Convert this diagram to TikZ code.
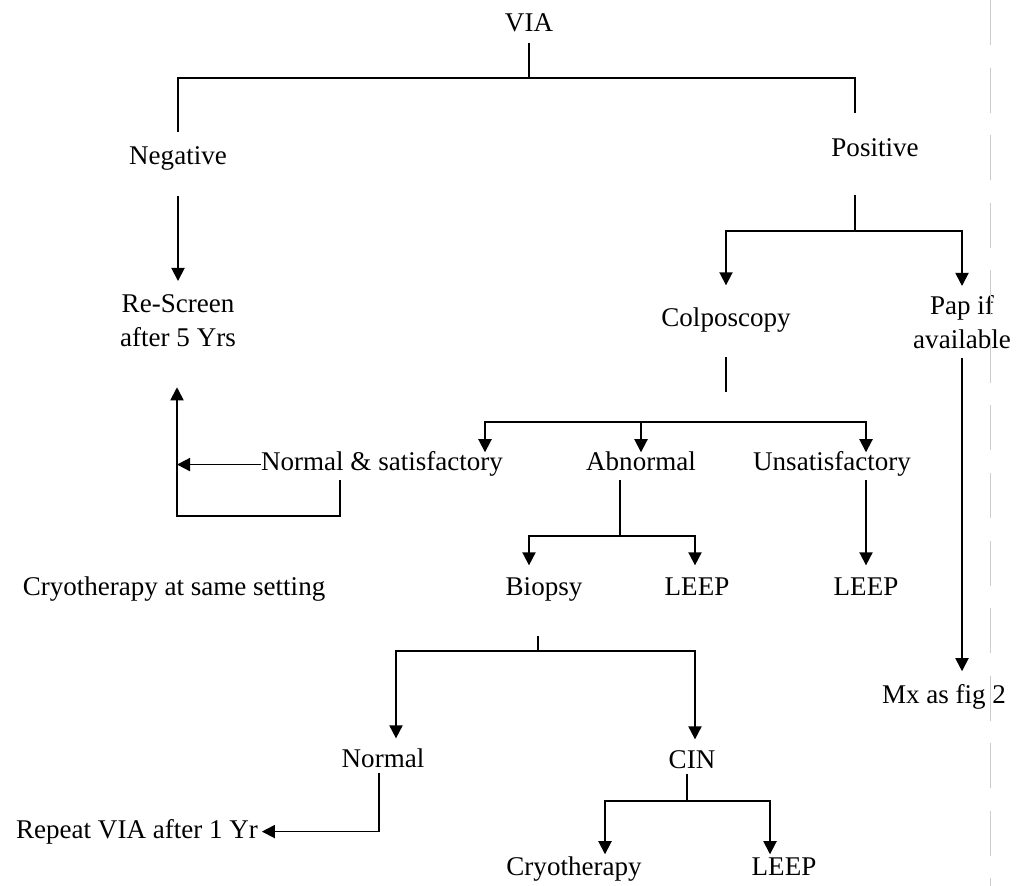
\documentclass[tikz,border=0pt]{standalone}
\usepackage{fontspec}
\setmainfont{Liberation Serif}
\usetikzlibrary{arrows.meta,calc}

\begin{document}
\begin{tikzpicture}[x=0.444pt,y=-0.444pt,
  lab/.style={font=\fontsize{12}{15.1}\selectfont,inner sep=0pt,outer sep=0pt,text height=8.3pt,text depth=2.6pt,anchor=base},
  twolab/.style={font=\fontsize{12}{15.1}\selectfont,inner sep=0pt,outer sep=0pt,align=center,anchor=north},
  link/.style={line width=0.8pt},
  >={Triangle[width=5.8pt,length=5.8pt]}]
  \useasboundingbox (0,0) rectangle (1026,886);

  \node[lab] (via) at (529,32) {VIA};
  \node[lab] (neg) at (178,165) {Negative};
  \node[lab] (pos) at (875,157) {Positive};
  \node[twolab] (rescreen) at (178,295) {Re-Screen\\after 5 Yrs};
  \node[lab] (colpo) at (726,327) {Colposcopy};
  \node[twolab] (pap) at (962,295) {Pap if\\available};
  \node[lab] (nsat) at (382,471) {Normal \& satisfactory};
  \node[lab] (abn) at (641,471) {Abnormal};
  \node[lab] (unsat) at (832,471) {Unsatisfactory};
  \node[lab] (cryoset) at (174,596) {Cryotherapy at same setting};
  \node[lab] (biopsy) at (544,596) {Biopsy};
  \node[lab] (leepa) at (697,596) {LEEP};
  \node[lab] (leepb) at (866,596) {LEEP};
  \node[lab] (mx) at (944,703) {Mx as fig 2};
  \node[lab] (normal) at (383,767) {Normal};
  \node[lab] (cin) at (692,768) {CIN};
  \node[lab] (repeat) at (137,838) {Repeat VIA after 1 Yr};
  \node[lab] (cryo) at (574,875) {Cryotherapy};
  \node[lab] (leepc) at (784,875) {LEEP};

  % branch points
  \coordinate (top) at (529,78);
  \coordinate (posbr) at (855,231);
  \coordinate (colbr) at (726,422);
  \coordinate (abnbr) at (620,536);
  \coordinate (biobr) at (538,651);
  \coordinate (cinbr) at (687,801);
  \coordinate (loop) at (177,516);

  \draw[link,shorten <=2.2pt] (via) -- (top);
  \draw[link,shorten >=6.2pt] (top) -| (neg);
  \draw[link,shorten >=11.1pt] (top) -| ([shift={(-20,0)}]pos.north);
  \draw[link,->,shorten <=11.1pt,shorten >=6.2pt] (neg) -- (rescreen);

  \draw[link,shorten <=14.2pt] (pos.south -| posbr) -- (posbr);
  \draw[link,->,shorten >=10.2pt] (posbr) -| (colpo);
  \draw[link,->,shorten >=4pt] (posbr) -| (pap);

  \draw[link,shorten <=10.7pt,shorten >=13.3pt] (colpo) -- (colbr);
  \draw[link,->] (colbr) -| ([shift={(103,0)}]nsat.north);
  \draw[link,->] (colbr) -| (abn);
  \draw[link,->] (colbr) -| ([shift={(34,0)}]unsat.north);
  \draw[link,->,shorten <=1.3pt,shorten >=5.3pt] ([shift={(34,0)}]unsat.south) -- (leepb);

  \draw[link,->,shorten <=1.3pt,shorten >=17.8pt] ([shift={(-42,0)}]nsat.south) |- (loop) -- (loop |- rescreen.south);
  \draw[link,->] (nsat.west) -- (nsat.west -| loop);

  \draw[link,shorten <=1.3pt] (abn.south -| abnbr) -- (abnbr);
  \draw[link,->,shorten >=5.3pt] (abnbr) -| ([shift={(-15,0)}]biopsy.north);
  \draw[link,->,shorten >=5.3pt] (abnbr) -| ([shift={(-2,0)}]leepa.north);

  \draw[link,shorten <=15.1pt] (biopsy.south -| biobr) -- (biobr);
  \draw[link,->,shorten >=4.4pt] (biobr) -| ([shift={(13,0)}]normal.north);
  \draw[link,->,shorten >=4.4pt] (biobr) -| ([shift={(3,0)}]cin.north);
  \draw[link,->,shorten >=1.8pt] ([shift={(-4,0)}]normal.south) |- (repeat);

  \draw[link] (cin.south -| cinbr) -- (cinbr);
  \draw[link,->,shorten >=0.9pt] (cinbr) -| ([shift={(31,0)}]cryo.north);
  \draw[link,->,shorten >=0.9pt] (cinbr) -| ([shift={(-14,0)}]leepc.north);

  \draw[link,->,shorten <=4.4pt,shorten >=5.8pt] (pap.south) -- (pap.south |- mx.north);

  % faint page edge
  \draw[gray!40,line width=0.4pt,dash pattern=on 20pt off 10pt] (990,0) -- (990,886);
\end{tikzpicture}
\end{document}
